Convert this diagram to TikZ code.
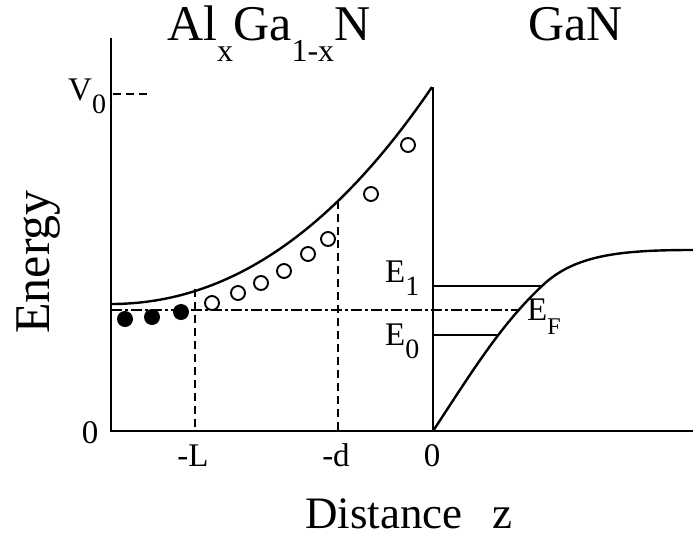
\documentclass[tikz,border=0pt]{standalone}
\usepackage{fontspec}
\setmainfont{Liberation Serif}
\begin{document}
\begin{tikzpicture}[x=1pt,y=-1pt,
  axis/.style={line width=2.6pt},
  curve/.style={line width=2.4pt},
  vdash/.style={line width=2.4pt,dash pattern=on 8pt off 5pt},
  ddot/.style={line width=2.6pt,dash pattern=on 11pt off 3pt on 3pt off 3pt},
  hole/.style={circle,draw,line width=1.9pt,minimum size=14pt,inner sep=0pt},
  elec/.style={circle,fill,minimum size=16pt,inner sep=0pt},
  lbl/.style={inner sep=0pt,font=\fontsize{33}{33}\selectfont},
  big/.style={inner sep=0pt,font=\fontsize{50}{50}\selectfont}]
\useasboundingbox (0,0) rectangle (693,541);
% coordinates
\coordinate (ytop) at (111,38);
\coordinate (orig) at (111,431);
\coordinate (xend) at (693,431);
\coordinate (itop) at (433,87);
\coordinate (ibot) at (433,431);
\coordinate (v0a) at (113,94);
\coordinate (v0b) at (151,94);
\coordinate (Ltop) at (195,289);
\coordinate (Lbot) at (195,431);
\coordinate (dtop) at (338,201);
\coordinate (dbot) at (338,431);
\coordinate (efa) at (111,310);
\coordinate (efb) at (520,310);
\coordinate (e1a) at (433,286);
\coordinate (e1b) at (543,286);
\coordinate (e0a) at (433,335);
\coordinate (e0b) at (497,335);
\coordinate (g0) at (433,431);
\coordinate (g1) at (543,285);
\coordinate (g2) at (693,250);
% axes
\draw[axis] (ytop) -- (orig) -- (xend);
\draw[axis] (itop) -- (ibot);
\draw[line width=1.8pt,dash pattern=on 8pt off 5pt] (v0a) -- (v0b);
% barrier curve
\draw[curve] plot[domain=0:3.21,samples=60,variable=\t] ({111+100*\t},{304-17.4*\t*\t-1.139*\t*\t*\t});
% dashed verticals
\draw[vdash] (Ltop) -- (Lbot);
\draw[vdash] (dtop) -- (dbot);
% Fermi level
\draw[ddot] (efa) -- (efb);
% subband levels
\draw[line width=2.6pt] (e1a) -- (e1b);
\draw[line width=1.8pt] (e0a) -- (e0b);
% GaN band
\draw[curve] (g0) .. controls (470,375) and (500,325) .. (g1) .. controls (575,255) and (620,250) .. (g2);
% electrons
\node[elec] (n1) at (125,319) {};
\node[elec] (n2) at (152,317) {};
\node[elec] (n3) at (181,312) {};
% holes
\node[hole] (h1) at (212,303) {};
\node[hole] (h2) at (238,293) {};
\node[hole] (h3) at (261,283) {};
\node[hole] (h4) at (284,271) {};
\node[hole] (h5) at (308,254) {};
\node[hole] (h6) at (328,239) {};
\node[hole] (h7) at (371,194) {};
\node[hole] (h8) at (408,145) {};
% labels
\node[lbl,anchor=base west] (V0) at (68,100) {V\raisebox{-13pt}{\fontsize{28}{28}\selectfont 0}};
\node[lbl,anchor=base] (z0) at (90,443) {0};
\node[lbl,anchor=base] (tL) at (193,466) {-L};
\node[lbl,anchor=base] (td) at (336,466) {-d};
\node[lbl,anchor=base] (t0) at (432,466) {0};
\node[lbl,anchor=base west] (E1) at (385,282) {E\raisebox{-13pt}{\fontsize{28}{28}\selectfont 1}};
\node[lbl,anchor=base west] (E0) at (385,345) {E\raisebox{-13pt}{\fontsize{28}{28}\selectfont 0}};
\node[lbl,anchor=base west] (EF) at (527,320) {E\raisebox{-14pt}{\fontsize{24}{24}\selectfont F}};
\node[big,anchor=base west] (title) at (167,40) {Al\raisebox{-21pt}{\fontsize{32}{32}\selectfont x}Ga\raisebox{-21pt}{\fontsize{32}{32}\selectfont 1-x}N};
\node[big,anchor=base west] (gan) at (528,40) {GaN};
\node[big,anchor=base,rotate=90] (energy) at (49,262) {Energy};
\node[lbl,anchor=base west,font=\fontsize{45}{45}\selectfont] (dist) at (305,528) {Distance};
\node[lbl,anchor=base west,font=\fontsize{45}{45}\selectfont] (zz) at (492,528) {z};
\end{tikzpicture}
\end{document}
